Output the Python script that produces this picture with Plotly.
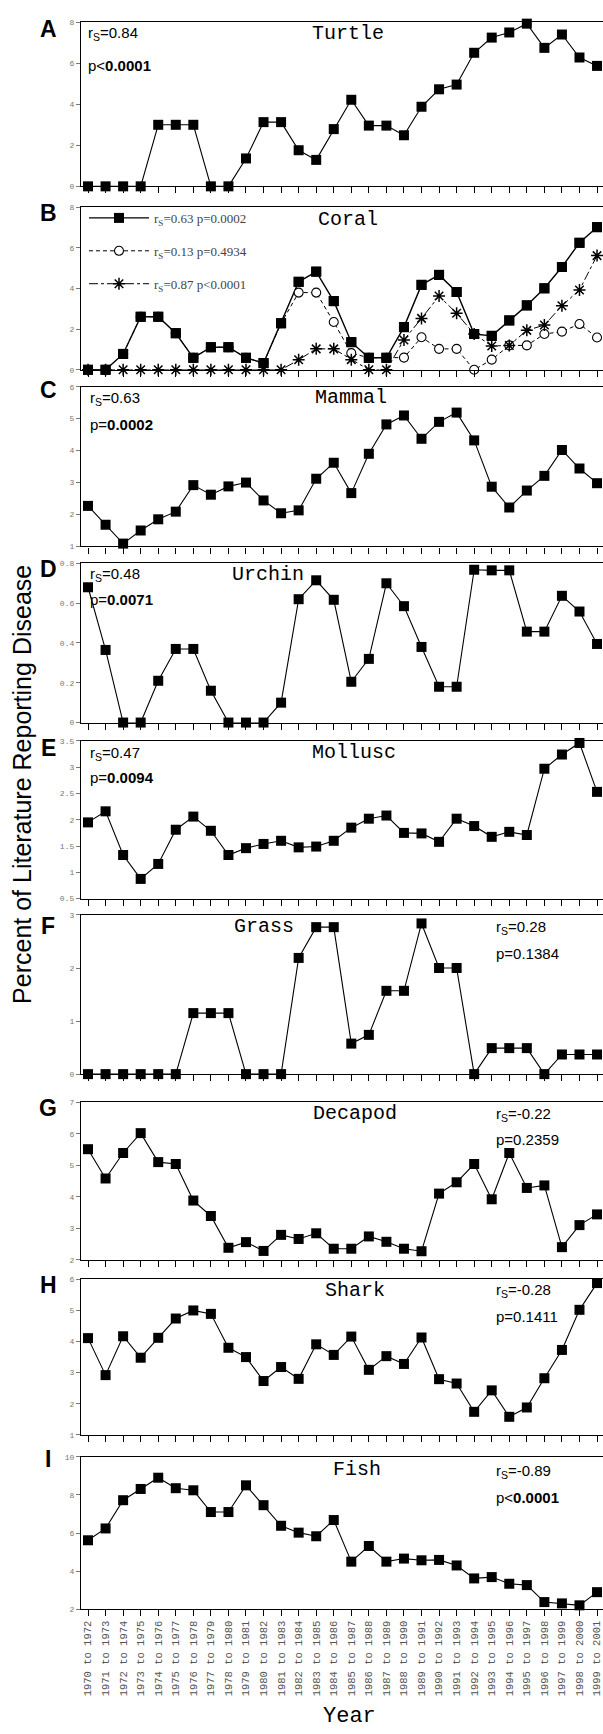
import plotly.graph_objects as go

W, H = 603, 1734

periods = ["1970 to 1972", "1971 to 1973", "1972 to 1974", "1973 to 1975", "1974 to 1976",
           "1975 to 1977", "1976 to 1978", "1977 to 1979", "1978 to 1980", "1979 to 1981",
           "1980 to 1982", "1981 to 1983", "1982 to 1984", "1983 to 1985", "1984 to 1986",
           "1985 to 1987", "1986 to 1988", "1987 to 1989", "1988 to 1990", "1989 to 1991",
           "1990 to 1992", "1991 to 1993", "1992 to 1994", "1993 to 1995", "1994 to 1996",
           "1995 to 1997", "1996 to 1998", "1997 to 1999", "1998 to 2000", "1999 to 2001"]

turtle = [0, 0, 0, 0, 3.0, 3.0, 3.0, 0, 0, 1.36, 3.13, 3.13, 1.76, 1.29, 2.79, 4.22, 2.96, 2.96,
          2.49, 3.88, 4.73, 4.96, 6.51, 7.25, 7.5, 7.93, 6.75, 7.4, 6.28, 5.87]
coral_all = [0, 0, 0.78, 2.61, 2.61, 1.8, 0.59, 1.11, 1.11, 0.59, 0.33, 2.29, 4.33, 4.83, 3.38,
             1.36, 0.59, 0.59, 2.1, 4.18, 4.67, 3.83, 1.76, 1.67, 2.43, 3.17, 4.01, 5.06, 6.25, 7.02]
coral_open = [0, 0, 0.78, 2.61, 2.61, 1.8, 0.59, 1.11, 1.11, 0.59, 0.33, 2.29, 3.8, 3.8, 2.35,
              0.82, 0.59, 0.59, 0.6, 1.6, 1.03, 1.03, 0, 0.5, 1.2, 1.2, 1.76, 1.88, 2.25, 1.59]
coral_star = [0, 0, 0, 0, 0, 0, 0, 0, 0, 0, 0, 0, 0.49, 1.03, 1.03, 0.5, 0, 0, 1.47, 2.53, 3.63,
              2.78, 1.76, 1.17, 1.2, 1.94, 2.2, 3.15, 3.93, 5.62]
mammal = [2.27, 1.68, 1.09, 1.5, 1.85, 2.09, 2.92, 2.62, 2.88, 3.0, 2.44, 2.04, 2.13, 3.12, 3.62,
          2.67, 3.9, 4.82, 5.1, 4.37, 4.9, 5.19, 4.32, 2.87, 2.22, 2.75, 3.21, 4.02, 3.44, 2.98]
urchin = [0.68, 0.365, 0, 0, 0.21, 0.37, 0.37, 0.16, 0, 0, 0, 0.1, 0.62, 0.715, 0.617, 0.205,
          0.32, 0.70, 0.585, 0.38, 0.18, 0.18, 0.768, 0.765, 0.765, 0.457, 0.457, 0.637, 0.558, 0.395]
mollusc = [1.95, 2.16, 1.33, 0.875, 1.16, 1.81, 2.06, 1.79, 1.33, 1.46, 1.54, 1.6, 1.475, 1.49,
           1.6, 1.85, 2.02, 2.08, 1.75, 1.74, 1.58, 2.02, 1.88, 1.675, 1.77, 1.71, 2.97, 3.24, 3.46, 2.53]
grass = [0, 0, 0, 0, 0, 0, 1.15, 1.15, 1.15, 0, 0, 0, 2.19, 2.77, 2.77, 0.575, 0.74, 1.57, 1.57,
         2.84, 2.0, 2.0, 0, 0.49, 0.49, 0.49, 0, 0.37, 0.37, 0.37]
decapod = [5.51, 4.58, 5.39, 6.02, 5.1, 5.04, 3.88, 3.39, 2.38, 2.56, 2.28, 2.79, 2.66, 2.84, 2.35,
           2.35, 2.74, 2.57, 2.35, 2.27, 4.1, 4.46, 5.04, 3.92, 5.39, 4.28, 4.36, 2.4, 3.1, 3.44]
shark = [4.11, 2.92, 4.17, 3.48, 4.12, 4.74, 5.0, 4.89, 3.8, 3.5, 2.73, 3.18, 2.8, 3.91, 3.57,
         4.16, 3.09, 3.53, 3.28, 4.13, 2.79, 2.65, 1.74, 2.43, 1.58, 1.88, 2.82, 3.73, 5.02, 5.88]
fish = [5.62, 6.24, 7.72, 8.31, 8.9, 8.35, 8.24, 7.1, 7.1, 8.5, 7.46, 6.38, 6.02, 5.83, 6.68,
        4.5, 5.32, 4.5, 4.66, 4.57, 4.59, 4.3, 3.62, 3.69, 3.34, 3.27, 2.38, 2.31, 2.21, 2.9]

names = ["Turtle", "Coral", "Mammal", "Urchin", "Mollusc", "Grass", "Decapod", "Shark", "Fish"]
letters = ["A", "B", "C", "D", "E", "F", "G", "H", "I"]
rs_text = ["0.84", None, "0.63", "0.48", "0.47", "0.28", "-0.22", "-0.28", "-0.89"]
p_text = ["&lt;<b>0.0001</b>", None, "=<b>0.0002</b>", "=<b>0.0071</b>", "=<b>0.0094</b>",
          "=0.1384", "=0.2359", "=0.1411", "&lt;<b>0.0001</b>"]
legend_text = ["r<sub>S</sub>=0.63 p=0.0002", "r<sub>S</sub>=0.13 p=0.4934",
               "r<sub>S</sub>=0.87 p&lt;0.0001"]
series = [turtle, None, mammal, urchin, mollusc, grass, decapod, shark, fish]
yranges = [(0, 8, 2), (0, 8, 2), (1, 6, 1), (0, 0.8, 0.2), (0.5, 3.5, 0.5), (0, 3, 1),
           (2, 7, 1), (1, 6, 1), (2, 10, 2)]

# layout (pixel positions)
tops = [18.3, 204.3, 384.7, 562.3, 740.7, 915.7, 1104, 1282, 1460.3]
bots = [183.3, 367.7, 545.3, 722.3, 899.3, 1075.7, 1262.3, 1438.3, 1613.7]
title_pos = [(348, 30), (348, 217), (351, 396), (268, 573), (354, 752), (264, 927),
             (355, 1115), (355, 1293), (357, 1473)]
stat_pos = [(86, 30, 62), None, (88, 397, 423), (88, 573, 599), (88, 753, 778),
            (494, 928, 954), (494, 1116, 1141), (494, 1293, 1319), (494, 1475, 1501)]
letter_y = [25, 210, 388, 568, 748, 927, 1110, 1288, 1463]
AXL = 81

def px(x):
    return x / W

def py(y):
    return 1 - y / H

fig = go.Figure()
sq = dict(symbol="square", size=10, color="black")
annotations = []

for i in range(9):
    xa = "x" if i == 0 else f"x{i+1}"
    ya = "y" if i == 0 else f"y{i+1}"
    if i == 1:
        fig.add_trace(go.Scatter(x=periods, y=coral_all, mode="lines+markers", xaxis=xa, yaxis=ya,
                                 line=dict(color="black", width=1.4), marker=sq, cliponaxis=False,
                                 name=legend_text[0], legendgroup="a", showlegend=True))
        fig.add_trace(go.Scatter(x=periods, y=coral_open, mode="lines+markers", xaxis=xa, yaxis=ya,
                                 line=dict(color="black", width=1, dash="4px,3px"),
                                 marker=dict(symbol="circle", size=9, color="white",
                                             line=dict(color="black", width=1.1)),
                                 cliponaxis=False, name=legend_text[1], legendgroup="b", showlegend=True))
        fig.add_trace(go.Scatter(x=periods, y=coral_star, mode="lines+markers", xaxis=xa, yaxis=ya,
                                 line=dict(color="black", width=1, dash="dashdot"),
                                 marker=dict(symbol="asterisk-open", size=10,
                                             line=dict(color="black", width=1.5)),
                                 cliponaxis=False, name=legend_text[2], legendgroup="c", showlegend=True))
        fig.add_trace(go.Scatter(x=periods, y=coral_all, mode="markers", xaxis=xa, yaxis=ya,
                                 marker=sq, cliponaxis=False, showlegend=False))
    else:
        fig.add_trace(go.Scatter(x=periods, y=series[i], mode="lines+markers", xaxis=xa, yaxis=ya,
                                 line=dict(color="black", width=1.1), marker=sq, cliponaxis=False,
                                 showlegend=False))
    lo, hi, dt = yranges[i]
    tv = []
    v = lo
    while v <= hi + 1e-9:
        tv.append(round(v, 2))
        v += dt
    last = i == 8
    fig.layout[("xaxis" if i == 0 else f"xaxis{i+1}")] = dict(
        domain=[px(AXL), 1], anchor=ya, type="category", range=[-0.4, 29.34],
        showline=True, linecolor="black", linewidth=1.3, mirror=True,
        ticks="outside", ticklen=6, tickcolor="black", tickwidth=1,
        showgrid=False, zeroline=False, showticklabels=last, tickangle=-90,
        tickfont=dict(family="Liberation Mono", size=10.5, color="#555"),
        fixedrange=True)
    fig.layout[("yaxis" if i == 0 else f"yaxis{i+1}")] = dict(
        domain=[py(bots[i]), py(tops[i])], anchor=xa, range=[lo, hi],
        tickvals=tv, ticktext=[("%g" % t) for t in tv],
        showline=True, linecolor="black", linewidth=1.3,
        ticks="outside", ticklen=4, tickcolor="#777", tickwidth=1,
        showgrid=False, zeroline=False,
        tickfont=dict(family="Liberation Mono", size=8, color="#777"))
    tx, tyy = title_pos[i]
    annotations.append(dict(text=names[i], x=px(tx), y=py(tyy), xref="paper", yref="paper",
                            showarrow=False, xanchor="center", yanchor="middle",
                            font=dict(family="Liberation Mono", size=20, color="black")))
    annotations.append(dict(text=f"<b>{letters[i]}</b>", x=px(48), y=py(letter_y[i]), xref="paper",
                            yref="paper", showarrow=False, xanchor="center", yanchor="middle",
                            font=dict(family="Liberation Sans", size=23, color="black")))
    if stat_pos[i]:
        sx, ry, pyy = stat_pos[i]
        annotations.append(dict(text=f"r<sub>S</sub>={rs_text[i]}", x=px(sx), y=py(ry), xref="paper",
                                yref="paper", showarrow=False, xanchor="left", yanchor="middle",
                                font=dict(family="Liberation Sans", size=15, color="black")))
        annotations.append(dict(text=f"p{p_text[i]}", x=px(sx), y=py(pyy), xref="paper",
                                yref="paper", showarrow=False, xanchor="left", yanchor="middle",
                                font=dict(family="Liberation Sans", size=15, color="black")))

annotations.append(dict(text="Percent of Literature Reporting Disease", x=px(22), y=py(785),
                        xref="paper", yref="paper", showarrow=False, textangle=-90,
                        xanchor="center", yanchor="middle",
                        font=dict(family="Liberation Sans", size=25, color="black")))
annotations.append(dict(text="Year", x=px(349), y=py(1721), xref="paper", yref="paper",
                        showarrow=False, xanchor="center", yanchor="middle",
                        font=dict(family="Liberation Mono", size=22, color="black")))

fig.update_layout(
    width=W, height=H, margin=dict(l=0, r=0, t=0, b=0),
    paper_bgcolor="white", plot_bgcolor="white",
    annotations=annotations,
    showlegend=True,
    legend=dict(x=px(84), y=py(200), xref="paper", yref="paper", xanchor="left", yanchor="top",
                bgcolor="rgba(0,0,0,0)", itemwidth=60, tracegroupgap=13,
                font=dict(family="Liberation Serif", size=13, color="#444")),
)

fig.write_html("out.html", config={"displayModeBar": False},
               post_script="document.body.style.margin='0';document.body.style.overflow='hidden';")
